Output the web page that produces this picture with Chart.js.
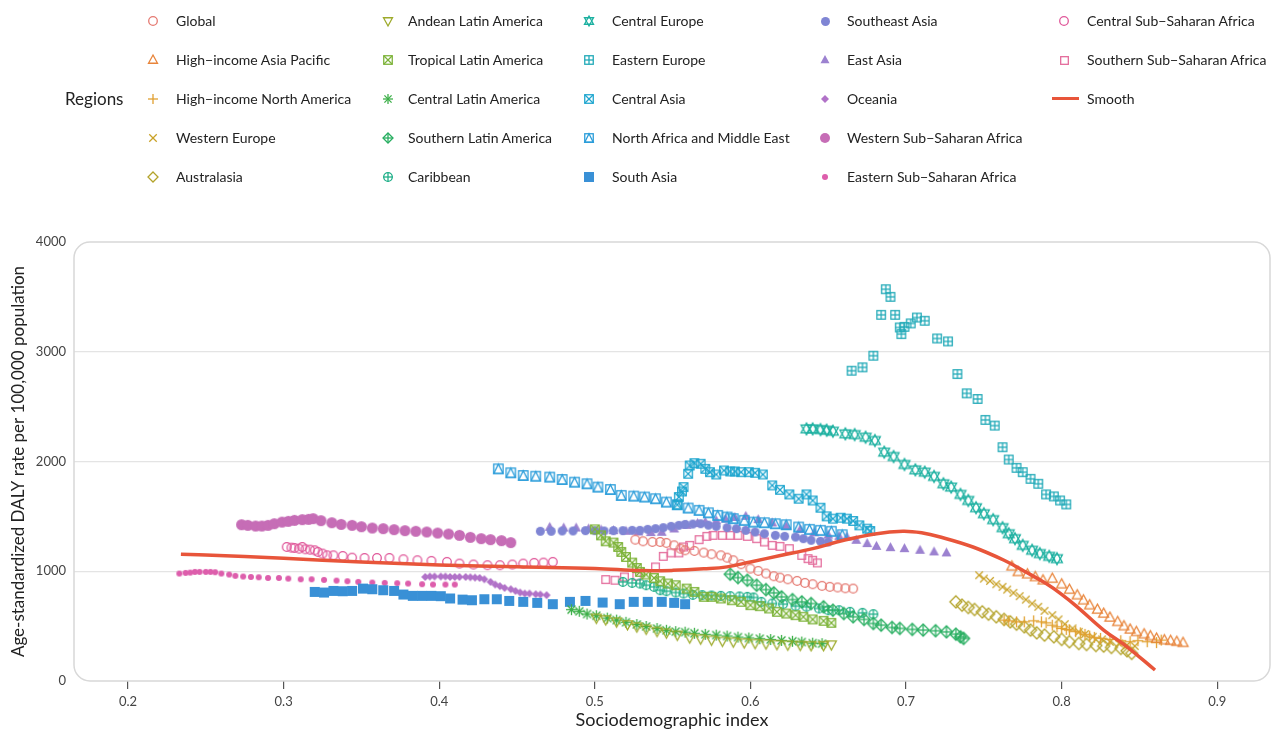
<!DOCTYPE html>
<html>
<head>
<meta charset="utf-8">
<script src="https://cdn.jsdelivr.net/npm/chart.js@4.4.0/dist/chart.umd.min.js"></script>
<style>
    body { margin: 0; background: #fff; font-family: Lato, "Open Sans", sans-serif; }
    #wrap { position: relative; width: 1271px; height: 729px; overflow: hidden; }
    #chart { position: absolute; left: 0; top: 0; }
    .lg-title { position: absolute; font-size: 17px; color: #222; }
    .lg-text { position: absolute; font-size: 14px; color: #222; white-space: nowrap; line-height: 18px; }
    .lg-mark { position: absolute; }
</style>
</head>
<body>
<div id="wrap">
    <canvas id="chart" width="1276" height="731"></canvas>
    <div id="legend"></div>
</div>
<script>
// values: [sociodemographic index, DALY rate]
const global = [[0.526,1288],[0.531,1273],[0.537,1267],[0.542,1267],[0.546,1258],[0.551,1236],[0.555,1206],[0.558,1191],[0.564,1185],[0.570,1170],[0.575,1155],[0.581,1145],[0.585,1124],[0.589,1100],[0.594,1064],[0.600,1024],[0.605,1003],[0.610,979],[0.615,955],[0.619,942],[0.624,927],[0.630,912],[0.635,894],[0.640,882],[0.646,867],[0.651,858],[0.656,852],[0.661,845],[0.666,842]];
const hiAsiaPacific = [[0.768,1045],[0.772,994],[0.778,973],[0.783,948],[0.788,918],[0.794,933],[0.800,882],[0.805,833],[0.810,782],[0.814,736],[0.818,691],[0.823,651],[0.827,615],[0.831,579],[0.836,539],[0.840,500],[0.844,470],[0.848,448],[0.853,427],[0.857,409],[0.861,388],[0.866,373],[0.870,367],[0.874,358],[0.878,348]];
const hiNorthAmerica = [[0.763,555],[0.766,548],[0.771,539],[0.776,539],[0.782,548],[0.787,539],[0.790,530],[0.794,509],[0.797,494],[0.800,479],[0.803,470],[0.805,464],[0.809,450],[0.812,439],[0.815,425],[0.818,409],[0.821,398],[0.825,388],[0.831,379],[0.838,367],[0.844,358],[0.849,367],[0.855,358],[0.861,350],[0.864,373]];
const westernEurope = [[0.747,964],[0.750,933],[0.754,912],[0.758,882],[0.762,858],[0.765,833],[0.769,803],[0.773,773],[0.777,742],[0.781,706],[0.785,676],[0.789,639],[0.794,600],[0.798,561],[0.802,518],[0.807,479],[0.811,448],[0.815,427],[0.820,403],[0.826,379],[0.831,358],[0.837,342],[0.842,327],[0.847,318]];
const australasia = [[0.732,721],[0.736,691],[0.740,670],[0.744,652],[0.749,630],[0.753,609],[0.758,585],[0.763,561],[0.767,539],[0.771,518],[0.776,494],[0.780,464],[0.784,439],[0.789,418],[0.795,403],[0.800,379],[0.805,358],[0.811,342],[0.816,333],[0.822,324],[0.827,318],[0.832,306],[0.838,297],[0.842,276],[0.845,252]];
const andeanLA = [[0.501,575],[0.507,560],[0.514,540],[0.521,515],[0.527,495],[0.533,475],[0.540,455],[0.546,440],[0.553,420],[0.561,395],[0.568,385],[0.575,375],[0.582,365],[0.589,358],[0.596,350],[0.603,345],[0.610,340],[0.617,335],[0.624,330],[0.632,327],[0.639,325],[0.647,325],[0.652,332]];
const tropicalLA = [[0.500,1382],[0.504,1327],[0.507,1273],[0.512,1261],[0.515,1221],[0.517,1176],[0.520,1130],[0.524,1079],[0.527,1030],[0.529,994],[0.533,970],[0.538,939],[0.542,909],[0.547,888],[0.552,873],[0.559,842],[0.564,812],[0.570,767],[0.575,767],[0.581,752],[0.588,736],[0.594,721],[0.600,691],[0.606,682],[0.612,661],[0.617,630],[0.623,615],[0.629,600],[0.634,585],[0.640,561],[0.647,548],[0.652,530]];
const centralLA = [[0.485,650],[0.490,635],[0.495,610],[0.501,595],[0.508,573],[0.514,555],[0.520,535],[0.527,515],[0.533,497],[0.540,478],[0.546,462],[0.552,450],[0.558,445],[0.564,435],[0.571,425],[0.578,418],[0.585,410],[0.592,400],[0.599,392],[0.606,385],[0.613,378],[0.620,370],[0.627,362],[0.633,355],[0.640,345],[0.646,340]];
const southernLA = [[0.587,973],[0.592,942],[0.598,918],[0.604,873],[0.610,833],[0.615,803],[0.620,767],[0.627,742],[0.633,721],[0.639,706],[0.647,676],[0.653,645],[0.660,615],[0.666,585],[0.673,561],[0.679,524],[0.684,509],[0.691,488],[0.696,479],[0.704,470],[0.711,464],[0.719,458],[0.726,448],[0.732,427],[0.735,403],[0.737,388]];
const caribbean = [[0.518,903],[0.524,894],[0.529,888],[0.533,873],[0.538,858],[0.542,827],[0.546,818],[0.552,806],[0.557,797],[0.563,785],[0.569,782],[0.575,779],[0.581,776],[0.587,773],[0.593,770],[0.598,767],[0.602,761],[0.607,721],[0.614,706],[0.621,700],[0.629,682],[0.636,676],[0.644,661],[0.650,645],[0.657,645],[0.664,630],[0.672,621],[0.679,609]];
const centralEurope = [[0.636,2297],[0.640,2297],[0.645,2291],[0.649,2285],[0.653,2276],[0.661,2252],[0.667,2245],[0.674,2221],[0.680,2191],[0.686,2085],[0.692,2045],[0.699,1973],[0.706,1924],[0.712,1903],[0.718,1864],[0.724,1797],[0.729,1767],[0.735,1700],[0.740,1645],[0.745,1579],[0.750,1524],[0.756,1470],[0.762,1397],[0.766,1342],[0.770,1297],[0.775,1236],[0.781,1191],[0.786,1161],[0.792,1136],[0.797,1115]];
const easternEurope = [[0.665,2827],[0.672,2858],[0.679,2964],[0.684,3336],[0.687,3570],[0.690,3500],[0.693,3336],[0.696,3221],[0.697,3161],[0.699,3227],[0.703,3258],[0.707,3312],[0.712,3282],[0.720,3121],[0.727,3094],[0.733,2797],[0.739,2621],[0.746,2570],[0.751,2379],[0.757,2327],[0.762,2130],[0.766,2018],[0.771,1942],[0.775,1903],[0.780,1842],[0.785,1797],[0.790,1700],[0.795,1682],[0.799,1645],[0.803,1609]];
const centralAsia = [[0.553,1606],[0.554,1676],[0.556,1727],[0.557,1767],[0.560,1888],[0.561,1964],[0.564,1985],[0.568,1979],[0.571,1933],[0.574,1903],[0.578,1882],[0.583,1918],[0.587,1909],[0.590,1909],[0.594,1903],[0.599,1903],[0.603,1897],[0.608,1882],[0.614,1782],[0.619,1742],[0.625,1700],[0.631,1661],[0.636,1700],[0.640,1645],[0.645,1579],[0.649,1500],[0.653,1479],[0.658,1488],[0.662,1479],[0.666,1458],[0.670,1418],[0.675,1388],[0.677,1367]];
const northAfricaME = [[0.438,1933],[0.446,1897],[0.454,1873],[0.462,1866],[0.471,1858],[0.479,1836],[0.487,1812],[0.495,1797],[0.502,1767],[0.510,1745],[0.517,1691],[0.525,1685],[0.532,1676],[0.539,1661],[0.546,1630],[0.553,1606],[0.560,1576],[0.567,1555],[0.573,1533],[0.579,1509],[0.585,1494],[0.589,1479],[0.596,1464],[0.602,1448],[0.609,1442],[0.616,1433],[0.623,1424],[0.631,1403],[0.638,1382],[0.645,1373],[0.652,1364],[0.659,1333]];
const southAsia = [[0.320,812],[0.326,806],[0.332,821],[0.338,818],[0.344,821],[0.351,842],[0.357,836],[0.364,827],[0.371,821],[0.377,788],[0.383,776],[0.389,776],[0.395,776],[0.401,773],[0.407,752],[0.415,742],[0.421,736],[0.429,745],[0.437,745],[0.445,730],[0.454,721],[0.463,712],[0.473,700],[0.484,721],[0.494,730],[0.505,715],[0.516,700],[0.525,721],[0.534,721],[0.543,721],[0.551,712],[0.558,700]];
const southeastAsia = [[0.465,1364],[0.472,1364],[0.479,1367],[0.486,1367],[0.494,1370],[0.500,1370],[0.506,1367],[0.512,1370],[0.518,1370],[0.524,1373],[0.529,1373],[0.534,1382],[0.539,1388],[0.544,1397],[0.549,1409],[0.554,1418],[0.558,1427],[0.563,1430],[0.568,1433],[0.573,1420],[0.578,1409],[0.585,1397],[0.591,1388],[0.597,1373],[0.603,1358],[0.609,1342],[0.616,1327],[0.622,1318],[0.629,1312],[0.634,1297],[0.639,1282],[0.645,1273],[0.650,1267]];
const eastAsia = [[0.471,1400],[0.480,1394],[0.488,1394],[0.496,1385],[0.504,1376],[0.512,1370],[0.520,1364],[0.528,1358],[0.536,1352],[0.543,1355],[0.551,1385],[0.559,1418],[0.566,1436],[0.571,1448],[0.578,1460],[0.584,1475],[0.590,1490],[0.597,1500],[0.605,1470],[0.614,1440],[0.623,1410],[0.632,1380],[0.641,1350],[0.650,1330],[0.657,1318],[0.662,1312],[0.668,1282],[0.675,1252],[0.681,1227],[0.690,1215],[0.699,1206],[0.709,1191],[0.718,1176],[0.726,1167]];
const oceania = [[0.391,948],[0.394,952],[0.397,952],[0.401,952],[0.404,952],[0.407,948],[0.410,948],[0.413,948],[0.417,948],[0.420,945],[0.423,942],[0.426,939],[0.429,927],[0.433,903],[0.436,879],[0.439,864],[0.442,848],[0.446,836],[0.449,821],[0.452,806],[0.455,797],[0.458,797],[0.462,791],[0.465,788],[0.469,782]];
const westernSSA = [[0.273,1424],[0.277,1418],[0.282,1412],[0.286,1412],[0.290,1418],[0.294,1433],[0.299,1448],[0.303,1455],[0.307,1464],[0.312,1470],[0.316,1473],[0.319,1479],[0.324,1461],[0.331,1442],[0.337,1427],[0.344,1418],[0.350,1406],[0.357,1394],[0.364,1388],[0.371,1379],[0.378,1370],[0.385,1364],[0.392,1358],[0.399,1348],[0.406,1339],[0.413,1327],[0.420,1309],[0.427,1297],[0.433,1288],[0.440,1279],[0.446,1261]];
const easternSSA = [[0.233,979],[0.237,985],[0.240,988],[0.243,994],[0.246,994],[0.250,994],[0.253,994],[0.256,991],[0.260,979],[0.265,970],[0.269,958],[0.274,952],[0.279,948],[0.284,945],[0.290,939],[0.297,939],[0.303,933],[0.311,927],[0.318,927],[0.326,921],[0.334,915],[0.341,909],[0.348,903],[0.357,897],[0.365,894],[0.373,891],[0.380,888],[0.389,882],[0.396,879],[0.404,879],[0.410,879]];
const centralSSA = [[0.302,1221],[0.305,1215],[0.307,1212],[0.310,1206],[0.312,1221],[0.314,1200],[0.317,1197],[0.320,1191],[0.322,1176],[0.325,1161],[0.328,1145],[0.332,1145],[0.338,1139],[0.344,1124],[0.352,1121],[0.360,1121],[0.368,1121],[0.377,1109],[0.386,1100],[0.395,1094],[0.405,1085],[0.413,1070],[0.422,1061],[0.431,1055],[0.439,1055],[0.447,1061],[0.454,1070],[0.461,1076],[0.467,1079],[0.473,1085]];
const southernSSA = [[0.507,924],[0.513,918],[0.519,948],[0.527,955],[0.539,1039],[0.544,1136],[0.549,1167],[0.554,1167],[0.557,1221],[0.561,1236],[0.567,1288],[0.572,1318],[0.576,1327],[0.582,1327],[0.587,1327],[0.592,1327],[0.598,1318],[0.604,1297],[0.609,1267],[0.614,1236],[0.619,1227],[0.625,1206],[0.633,1145],[0.637,1115],[0.640,1100],[0.643,1076]];
const smooth = [[0.234,1155],[0.25,1148],[0.30,1118],[0.35,1085],[0.40,1058],[0.45,1040],[0.50,1026],[0.53,1006],[0.55,1008],[0.57,1022],[0.585,1040],[0.60,1085],[0.62,1145],[0.64,1206],[0.66,1282],[0.68,1340],[0.698,1364],[0.71,1350],[0.722,1312],[0.743,1221],[0.763,1100],[0.776,1000],[0.790,888],[0.800,790],[0.810,676],[0.827,464],[0.842,312],[0.860,100]];

const xTicks = [0.2, 0.3, 0.4, 0.5, 0.6, 0.7, 0.8, 0.9];
const yTicks = [0, 1000, 2000, 3000, 4000];

const series = [
    { name: 'Global', data: global, shape: 'circleOpen', color: '#e57a72', size: 10 },
    { name: 'High\u2212income Asia Pacific', data: hiAsiaPacific, shape: 'triUp', color: '#e8843a', size: 11 },
    { name: 'High\u2212income North America', data: hiNorthAmerica, shape: 'plus', color: '#e0a030', size: 11 },
    { name: 'Western Europe', data: westernEurope, shape: 'x', color: '#c9a227', size: 10 },
    { name: 'Australasia', data: australasia, shape: 'diamondOpen', color: '#b3a32a', size: 12 },
    { name: 'Andean Latin America', data: andeanLA, shape: 'triDown', color: '#9daa2a', size: 11 },
    { name: 'Tropical Latin America', data: tropicalLA, shape: 'squareX', color: '#7db33a', size: 10 },
    { name: 'Central Latin America', data: centralLA, shape: 'asterisk', color: '#3eb04a', size: 11 },
    { name: 'Southern Latin America', data: southernLA, shape: 'diamondPlus', color: '#27ae60', size: 12 },
    { name: 'Caribbean', data: caribbean, shape: 'circlePlus', color: '#22b08a', size: 10 },
    { name: 'Central Europe', data: centralEurope, shape: 'star6', color: '#1bb0a0', size: 12 },
    { name: 'Eastern Europe', data: easternEurope, shape: 'squarePlus', color: '#23aab8', size: 10 },
    { name: 'Central Asia', data: centralAsia, shape: 'squareX', color: '#1fa6cf', size: 10 },
    { name: 'North Africa and Middle East', data: northAfricaME, shape: 'squareTri', color: '#2b9dda', size: 11 },
    { name: 'South Asia', data: southAsia, shape: 'squareFill', color: '#3990d6', size: 10 },
    { name: 'Southeast Asia', data: southeastAsia, shape: 'circleFill', color: '#7f85d4', size: 9 },
    { name: 'East Asia', data: eastAsia, shape: 'triFill', color: '#9c82d0', size: 11 },
    { name: 'Oceania', data: oceania, shape: 'diamondFill', color: '#b172c8', size: 8 },
    { name: 'Western Sub\u2212Saharan Africa', data: westernSSA, shape: 'circleFill', color: '#c66db6', size: 11 },
    { name: 'Eastern Sub\u2212Saharan Africa', data: easternSSA, shape: 'circleFill', color: '#dd5eac', size: 6 },
    { name: 'Central Sub\u2212Saharan Africa', data: centralSSA, shape: 'circleOpen', color: '#e0589a', size: 10 },
    { name: 'Southern Sub\u2212Saharan Africa', data: southernSSA, shape: 'squareOpen', color: '#e46d9c', size: 9 }
];
const smoothColor = '#e8553a';

function makeMarker(shape, color, size) {
    const w = size + 4;
    const c = document.createElement('canvas');
    c.width = w; c.height = w;
    const g = c.getContext('2d');
    const m = w / 2, r = size / 2;
    g.strokeStyle = color;
    g.fillStyle = color;
    g.lineWidth = 1.3;
    const line = (x1, y1, x2, y2) => { g.beginPath(); g.moveTo(x1, y1); g.lineTo(x2, y2); g.stroke(); };
    const plus = (k) => { line(m - k, m, m + k, m); line(m, m - k, m, m + k); };
    const cross = (k) => { line(m - k, m - k, m + k, m + k); line(m - k, m + k, m + k, m - k); };
    const diamond = () => { g.beginPath(); g.moveTo(m, m - r); g.lineTo(m + r, m); g.lineTo(m, m + r); g.lineTo(m - r, m); g.closePath(); };
    const tri = (dir, k) => {
        g.beginPath();
        g.moveTo(m, m - dir * k);
        g.lineTo(m + k * 0.9, m + dir * k * 0.65);
        g.lineTo(m - k * 0.9, m + dir * k * 0.65);
        g.closePath();
    };
    const sq = r * 0.85;
    switch (shape) {
        case 'circleOpen': g.beginPath(); g.arc(m, m, r - 0.7, 0, Math.PI * 2); g.stroke(); break;
        case 'circleFill': g.beginPath(); g.arc(m, m, r, 0, Math.PI * 2); g.fill(); break;
        case 'triUp': tri(1, r); g.stroke(); break;
        case 'triDown': tri(-1, r); g.stroke(); break;
        case 'triFill': tri(1, r); g.fill(); break;
        case 'plus': plus(r); break;
        case 'x': cross(r * 0.75); break;
        case 'diamondOpen': diamond(); g.stroke(); break;
        case 'diamondFill': diamond(); g.fill(); break;
        case 'diamondPlus': diamond(); g.stroke(); plus(r); break;
        case 'asterisk': plus(r); cross(r * 0.72); break;
        case 'circlePlus': g.beginPath(); g.arc(m, m, r - 0.7, 0, Math.PI * 2); g.stroke(); plus(r); break;
        case 'star6': tri(1, r); g.stroke(); tri(-1, r); g.stroke(); break;
        case 'squareOpen': g.strokeRect(m - sq, m - sq, sq * 2, sq * 2); break;
        case 'squareFill': g.fillRect(m - r, m - r, r * 2, r * 2); break;
        case 'squareX': g.strokeRect(m - sq, m - sq, sq * 2, sq * 2); cross(sq); break;
        case 'squarePlus': g.strokeRect(m - sq, m - sq, sq * 2, sq * 2); plus(sq); break;
        case 'squareTri':
            g.strokeRect(m - sq, m - sq, sq * 2, sq * 2);
            g.beginPath(); g.moveTo(m, m - sq); g.lineTo(m + sq, m + sq); g.lineTo(m - sq, m + sq); g.closePath(); g.stroke();
            break;
    }
    return c;
}

const toPoints = arr => arr.map(p => ({ x: p[0], y: p[1] }));

const datasets = series.map(s => ({
    type: 'scatter',
    label: s.name,
    data: toPoints(s.data),
    pointStyle: makeMarker(s.shape, s.color, s.size),
    pointRadius: 5,
    order: 1
}));
datasets.push({
    type: 'line',
    label: 'Smooth',
    data: toPoints(smooth),
    borderColor: smoothColor,
    borderWidth: 3.5,
    pointRadius: 0,
    tension: 0.4,
    fill: false,
    order: 0
});

// rounded grey frame round the plot panel
const panelFrame = {
    id: 'panelFrame',
    beforeDatasetsDraw(chart) {
        const a = chart.chartArea;
        const ctx = chart.ctx;
        ctx.save();
        ctx.strokeStyle = '#d8d8d8';
        ctx.lineWidth = 1.5;
        ctx.beginPath();
        ctx.roundRect(a.left, a.top, a.right - a.left, a.bottom - a.top, 16);
        ctx.stroke();
        ctx.restore();
    }
};

Chart.defaults.font.family = 'Lato, "Open Sans", sans-serif';

new Chart(document.getElementById('chart'), {
    type: 'scatter',
    data: { datasets: datasets },
    options: {
        responsive: false,
        animation: false,
        layout: { padding: { top: 242, right: 0, left: 0, bottom: 0 } },
        plugins: {
            legend: { display: false },
            tooltip: { enabled: false }
        },
        scales: {
            x: {
                type: 'linear',
                min: 0.1653,
                max: 0.9339,
                afterBuildTicks: axis => { axis.ticks = xTicks.map(v => ({ value: v })); },
                afterFit: scale => { scale.height = 50; },
                border: { display: false },
                grid: { drawOnChartArea: false, drawTicks: true, tickLength: 8, color: '#555', lineWidth: 1.2 },
                ticks: { padding: 5, color: '#444', font: { size: 13 }, callback: v => v.toFixed(1) },
                title: { display: true, text: 'Sociodemographic index', color: '#222', font: { size: 18 }, padding: { top: 0, bottom: 0 } }
            },
            y: {
                min: 0,
                max: 4000,
                afterBuildTicks: axis => { axis.ticks = yTicks.map(v => ({ value: v })); },
                afterFit: scale => { scale.width = 74; },
                border: { display: false },
                grid: {
                    drawTicks: false,
                    lineWidth: 1.3,
                    color: ctx => (ctx.tick && (ctx.tick.value === 0 || ctx.tick.value === 4000)) ? 'rgba(0,0,0,0)' : '#e4e4e4'
                },
                ticks: { padding: 8, color: '#444', font: { size: 13 } , callback: v => String(v) },
                title: { display: true, text: 'Age-standardized DALY rate per 100,000 population', color: '#222', font: { size: 17 }, padding: { top: 8, bottom: 0 } }
            }
        }
    },
    plugins: [panelFrame]
});

// legend in five columns, built as html
const legendCols = [
    ['Global', 'High\u2212income Asia Pacific', 'High\u2212income North America', 'Western Europe', 'Australasia'],
    ['Andean Latin America', 'Tropical Latin America', 'Central Latin America', 'Southern Latin America', 'Caribbean'],
    ['Central Europe', 'Eastern Europe', 'Central Asia', 'North Africa and Middle East', 'South Asia'],
    ['Southeast Asia', 'East Asia', 'Oceania', 'Western Sub\u2212Saharan Africa', 'Eastern Sub\u2212Saharan Africa'],
    ['Central Sub\u2212Saharan Africa', 'Southern Sub\u2212Saharan Africa', 'Smooth']
];
const colMarkX = [153, 388, 589, 825, 1064];
const colTextX = [176, 408, 612, 847, 1087];
const rowY = [21, 60, 99, 138, 177];

const legend = document.getElementById('legend');
const title = document.createElement('div');
title.className = 'lg-title';
title.textContent = 'Regions';
title.style.left = '65px';
title.style.top = '88px';
legend.appendChild(title);

legendCols.forEach((col, ci) => {
    col.forEach((name, ri) => {
        const y = rowY[ri];
        if (name === 'Smooth') {
            const bar = document.createElement('div');
            bar.className = 'lg-mark';
            bar.style.cssText = `left:${colMarkX[ci] - 12}px;top:${y - 2.5}px;width:27px;height:3.5px;background:${smoothColor};`;
            legend.appendChild(bar);
        } else {
            const s = series.find(d => d.name === name);
            const mk = makeMarker(s.shape, s.color, Math.min(s.size, 10));
            mk.className = 'lg-mark';
            mk.style.left = (colMarkX[ci] - mk.width / 2) + 'px';
            mk.style.top = (y - mk.height / 2) + 'px';
            legend.appendChild(mk);
        }
        const t = document.createElement('div');
        t.className = 'lg-text';
        t.textContent = name;
        t.style.left = colTextX[ci] + 'px';
        t.style.top = (y - 9) + 'px';
        legend.appendChild(t);
    });
});
</script>
</body>
</html>
